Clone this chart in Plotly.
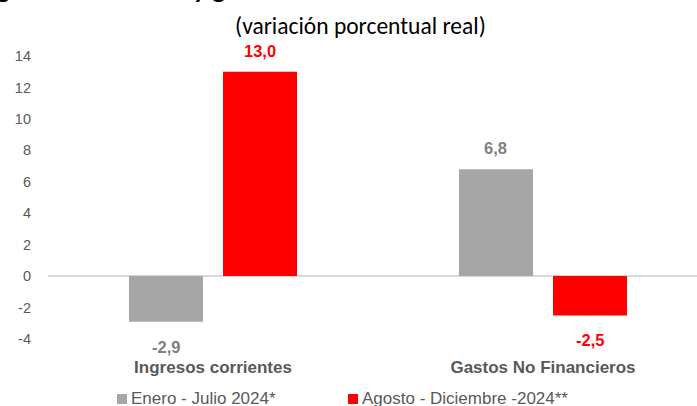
import plotly.graph_objects as go

categories = ["Ingresos corrientes", "Gastos No Financieros"]
series_names = ["Enero - Julio 2024*", "Agosto - Diciembre -2024**"]
enero_julio = [-2.9, 6.8]
agosto_dic = [13.0, -2.5]
y_ticks = [-4, -2, 0, 2, 4, 6, 8, 10, 12, 14]

GRAY = "#a6a6a6"
RED = "#ff0000"
TXT = "#595959"

W, H = 697, 406
ML, MR, MT, MB = 48, 0, 56, 67
PW = W - ML - MR
PH = H - MT - MB
CAT_PX = 330.0
BARGAP = 0.43

def px_x(px):
    return (px - ML) / PW

def px_y(py):
    return 1 - (py - MT) / PH

fig = go.Figure()
fig.add_bar(x=categories, y=enero_julio, name=series_names[0], marker_color=GRAY,
            marker_line_width=0, showlegend=False)
fig.add_bar(x=categories, y=agosto_dic, name=series_names[1], marker_color=RED,
            marker_line_width=0, showlegend=False)

slot = (1 - BARGAP) / 2
offsets = [-slot / 2, slot / 2]
label_colors = ["#808080", RED]
annotations = []
for s, (vals, col) in enumerate(zip([enero_julio, agosto_dic], label_colors)):
    for i, v in enumerate(vals):
        txt = f"{v:.1f}".replace(".", ",")
        annotations.append(dict(
            x=i + offsets[s], y=v, xref="x", yref="y", text=f"<b>{txt}</b>",
            showarrow=False, font=dict(family="Arial, Liberation Sans", size=16.5, color=col),
            yanchor="bottom" if v >= 0 else "top", yshift=10 if v >= 0 else -14,
        ))

# subtitle
annotations.append(dict(
    x=px_x(360), y=px_y(26), xref="paper", yref="paper", text="(variación porcentual real)",
    showarrow=False, xanchor="center", yanchor="middle",
    font=dict(family="Calibri, Carlito, Lato, sans-serif", size=23.5, color="#000000"),
))
# cut-off title at very top
annotations.append(dict(
    x=px_x(-27), y=px_y(7), xref="paper", yref="paper",
    text="<b>Ingresos corrientes y gastos no financieros</b>",
    showarrow=False, xanchor="left", yanchor="bottom",
    font=dict(family="Calibri, Carlito, Lato, sans-serif", size=27, color="#000000"),
))

# custom legend
legend_items = [(117, GRAY, series_names[0]), (348, RED, series_names[1])]
shapes = []
for x0, col, name in legend_items:
    shapes.append(dict(type="rect", xref="paper", yref="paper",
                       x0=px_x(x0), x1=px_x(x0 + 10), y0=px_y(404), y1=px_y(394),
                       fillcolor=col, line_width=0))
    annotations.append(dict(
        x=px_x(x0 + 12), y=px_y(398.5), xref="paper", yref="paper", text=name,
        showarrow=False, xanchor="left", yanchor="middle",
        font=dict(family="Arial, Liberation Sans", size=17, color=TXT),
    ))

fig.update_layout(
    width=W, height=H,
    margin=dict(l=ML, r=MR, t=MT, b=MB, pad=0),
    plot_bgcolor="white", paper_bgcolor="white",
    barmode="group", bargap=BARGAP, bargroupgap=0.213,
    annotations=annotations, shapes=shapes,
    showlegend=False,
    xaxis=dict(
        type="category", range=[-0.5, -0.5 + PW / CAT_PX],
        showgrid=False, showline=False, zeroline=False,
        ticks="", ticklabelstandoff=16,
        tickfont=dict(family="Arial, Liberation Sans", size=17, color=TXT, weight="bold"),
    ),
    yaxis=dict(
        range=[-4, 14], tickvals=y_ticks, ticktext=[str(t) for t in y_ticks],
        showgrid=False, showline=False,
        zeroline=True, zerolinecolor="#d9d9d9", zerolinewidth=2,
        ticks="", ticklabelstandoff=16,
        tickfont=dict(family="Arial, Liberation Sans", size=14.5, color=TXT),
    ),
)

fig.write_html("out.html", config={"displayModeBar": False},
               post_script="document.body.style.margin='0';document.body.style.overflow='hidden';")
